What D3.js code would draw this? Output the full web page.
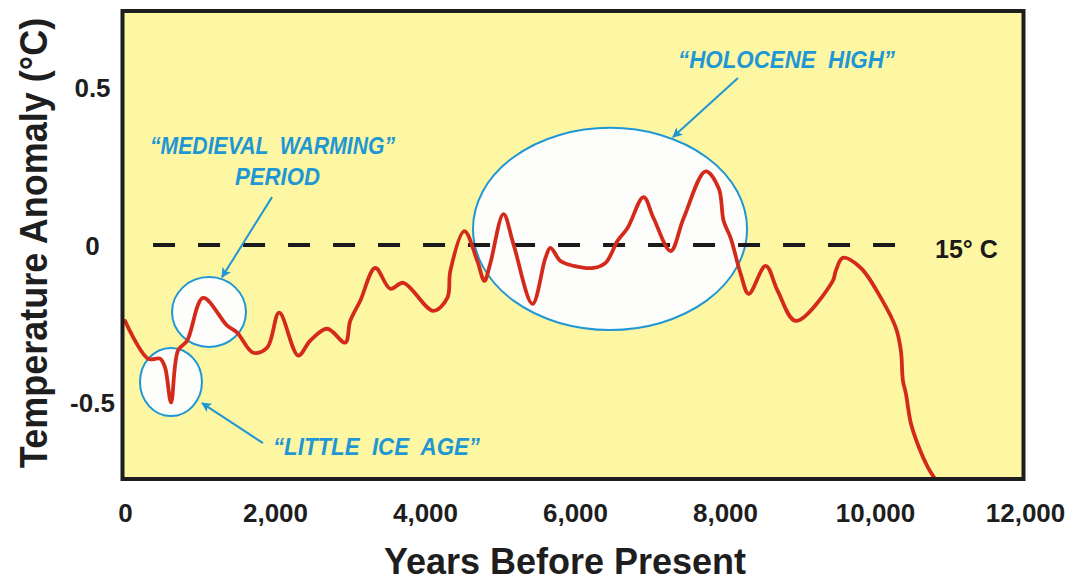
<!DOCTYPE html>
<html>
<head>
<meta charset="utf-8">
<script src="https://cdn.jsdelivr.net/npm/d3@7"></script>
<style>
  body { margin: 0; background: #fff; }
  #grafica { width: 1070px; height: 581px; }
</style>
</head>
<body>
<div id="grafica"></div>
<script>
// Datos (anios antes del presente, anomalia en °C)
anios = [0, 307, 467, 534, 614, 707, 828, 1041, 1362, 1495, 1709, 1896, 2056, 2309, 2469, 2696,
  2937, 3003, 3137, 3337, 3537, 3711, 4111, 4298, 4338, 4525, 4698, 4792, 4872, 5046, 5179,
  5433, 5606, 5673, 5806, 5980, 6247, 6407, 6567, 6701, 6914, 7048, 7275, 7448, 7742, 7916,
  7982, 8076, 8209, 8316, 8543, 8703, 8943, 9437, 9477, 9571, 9811, 10078, 10278, 10345,
  10372, 10412, 10478, 10585, 10705, 10785]
anomalia = [-0.241, -0.361, -0.361, -0.389, -0.500, -0.335, -0.304, -0.168, -0.256, -0.278,
  -0.342, -0.326, -0.215, -0.351, -0.304, -0.266, -0.310, -0.241, -0.177, -0.073, -0.139,
  -0.120, -0.209, -0.168, -0.082, 0.044, -0.051, -0.114, -0.057, 0.098, 0.003, -0.187, -0.041,
  -0.009, -0.051, -0.066, -0.073, -0.057, 0.013, 0.054, 0.152, 0.085, -0.019, 0.085, 0.234,
  0.180, 0.076, 0.022, -0.092, -0.155, -0.066, -0.146, -0.241, -0.114, -0.082, -0.041, -0.073,
  -0.168, -0.263, -0.335, -0.430, -0.472, -0.566, -0.642, -0.706, -0.737]

xTicks = [0, 2000, 4000, 6000, 8000, 10000, 12000]
yTicks = [-0.5, 0, 0.5]

// linea de referencia 15° C
referencia = { desde: 374, hasta: 10318, valor: 0, texto: '15° C' }

// anotaciones: elipses (centro y semiejes en unidades de datos)
zonas = ['ice', 'medieval', 'holoceno']
zonaAnio  = [613, 1120, 6467]
zonaValor = [-0.435, -0.213, 0.051]
zonaRx    = [413, 493, 1827]
zonaRy    = [0.108, 0.111, 0.321]

// textos de las anotaciones
notas      = ['\u201CMEDIEVAL  WARMING\u201D', 'PERIOD', '\u201CHOLOCENE  HIGH\u201D', '\u201CLITTLE  ICE  AGE\u201D']
notaAnio   = [1967, 2033, 8820, 3353]
notaValor  = [0.289, 0.190, 0.562, -0.667]
notaAncho  = [245, 85, 217, 207]

// flechas: [anio cola, valor cola, anio punta, valor punta]
flechas = [
  [1960, 0.152, 1293, -0.102],
  [1840, -0.629, 1027, -0.502],
  [8173, 0.530, 7307, 0.343]
]

ancho_total = 1070
alto_total  = 581
marco = { left: 122.5, right: 1023.5, top: 11, bottom: 479 }

azul = '#1f97d4'
rojo = '#d42a1c'
fuente = 'Liberation Sans, Arial, sans-serif'

svg = d3
        .select('#grafica')
        .append('svg')
        .attr('width', ancho_total)
        .attr('height', alto_total)

x = d3.scaleLinear()
      .domain([0, 12000])
      .range([125, 1025])

y = d3.scaleLinear()
      .domain([-0.743, 0.743])
      .range([marco.bottom, marco.top])

defs = svg.append('defs')

defs.append('clipPath')
  .attr('id', 'recorte')
  .append('rect')
  .attr('x', marco.left)
  .attr('y', marco.top)
  .attr('width', marco.right - marco.left)
  .attr('height', marco.bottom - marco.top)

defs.append('marker')
  .attr('id', 'punta')
  .attr('viewBox', '0 0 10 10')
  .attr('refX', 9)
  .attr('refY', 5)
  .attr('markerWidth', 13)
  .attr('markerHeight', 10)
  .attr('markerUnits', 'userSpaceOnUse')
  .attr('orient', 'auto')
  .append('path')
  .attr('d', 'M0,0 L10,5 L0,10 L2.5,5 Z')
  .attr('fill', azul)

// fondo amarillo
svg.append('rect')
  .attr('x', marco.left)
  .attr('y', marco.top)
  .attr('width', marco.right - marco.left)
  .attr('height', marco.bottom - marco.top)
  .attr('fill', '#fdf6a3')

// elipses blancas
svg.append('g')
  .selectAll('ellipse')
  .data(zonas)
  .join('ellipse')
    .attr('cx', (d, i) => x(zonaAnio[i]))
    .attr('cy', (d, i) => y(zonaValor[i]))
    .attr('rx', (d, i) => x(zonaAnio[i] + zonaRx[i]) - x(zonaAnio[i]))
    .attr('ry', (d, i) => y(zonaValor[i] - zonaRy[i]) - y(zonaValor[i]))
    .attr('fill', '#fdfefc')
    .attr('stroke', azul)
    .attr('stroke-width', 2)

// linea discontinua de 15° C
svg.append('line')
  .attr('x1', x(referencia.desde))
  .attr('x2', x(referencia.hasta))
  .attr('y1', y(referencia.valor))
  .attr('y2', y(referencia.valor))
  .attr('stroke', '#1a1a1a')
  .attr('stroke-width', 4)
  .attr('stroke-dasharray', '22,23')

svg.append('text')
  .attr('x', x(10800))
  .attr('y', y(referencia.valor) + 13)
  .attr('font-family', fuente)
  .attr('font-weight', 'bold')
  .attr('font-size', '25px')
  .attr('fill', '#1a1a1a')
  .text(referencia.texto)

// curva de temperatura
puntos = anios.map((a, i) => [a, anomalia[i]])

linea = d3.line()
          .x((d) => x(d[0]))
          .y((d) => y(d[1]))
          .curve(d3.curveCatmullRom.alpha(0.5))

svg.append('path')
  .datum(puntos)
  .attr('clip-path', 'url(#recorte)')
  .attr('d', linea)
  .attr('fill', 'none')
  .attr('stroke', rojo)
  .attr('stroke-width', 3.8)
  .attr('stroke-linejoin', 'round')
  .attr('stroke-linecap', 'round')

// flechas azules
svg.append('g')
  .selectAll('line')
  .data(flechas)
  .join('line')
    .attr('x1', (d) => x(d[0]))
    .attr('y1', (d) => y(d[1]))
    .attr('x2', (d) => x(d[2]))
    .attr('y2', (d) => y(d[3]))
    .attr('stroke', azul)
    .attr('stroke-width', 2)
    .attr('marker-end', 'url(#punta)')

// textos de anotacion
svg.append('g')
  .selectAll('text')
  .data(notas)
  .join('text')
    .attr('x', (d, i) => x(notaAnio[i]))
    .attr('y', (d, i) => y(notaValor[i]))
    .attr('text-anchor', 'middle')
    .attr('font-family', fuente)
    .attr('font-weight', 'bold')
    .attr('font-style', 'italic')
    .attr('font-size', '23px')
    .attr('fill', azul)
    .attr('textLength', (d, i) => notaAncho[i])
    .attr('lengthAdjust', 'spacingAndGlyphs')
    .style('white-space', 'pre')
    .text((d) => d)

// marco negro
svg.append('rect')
  .attr('x', marco.left)
  .attr('y', marco.top)
  .attr('width', marco.right - marco.left)
  .attr('height', marco.bottom - marco.top)
  .attr('fill', 'none')
  .attr('stroke', '#1e1e1e')
  .attr('stroke-width', 4)

// ejes
xGroup = svg.append('g')
            .attr('transform', `translate(0, ${marco.bottom})`)
            .call(d3.axisBottom(x).tickValues(xTicks).tickSize(0).tickFormat(d3.format(',')))
xGroup.select('.domain').remove()
xGroup.selectAll('text')
  .attr('y', 43)
  .attr('dy', 0)
  .attr('font-family', fuente)
  .attr('font-weight', 'bold')
  .attr('font-size', '26px')
  .attr('fill', '#1e1e1e')

yGroup = svg.append('g')
            .attr('transform', `translate(${marco.left}, 0)`)
            .call(d3.axisLeft(y).tickValues(yTicks).tickSize(0).tickFormat((d) => d))
yGroup.select('.domain').remove()
yGroup.selectAll('text')
  .attr('x', -30)
  .attr('dy', '0.36em')
  .attr('text-anchor', 'middle')
  .attr('font-family', fuente)
  .attr('font-weight', 'bold')
  .attr('font-size', '26px')
  .attr('fill', '#1e1e1e')

// titulos de ejes
svg.append('text')
  .attr('x', 565)
  .attr('y', 574)
  .attr('text-anchor', 'middle')
  .attr('font-family', fuente)
  .attr('font-weight', 'bold')
  .attr('font-size', '36px')
  .attr('fill', '#1e1e1e')
  .text('Years Before Present')

// titulo vertical: letras algo mas altas que anchas, como en la original
svg.append('text')
  .attr('transform', 'translate(47, 243) rotate(-90) scale(1, 1.1)')
  .attr('text-anchor', 'middle')
  .attr('font-family', fuente)
  .attr('font-weight', 'bold')
  .attr('font-size', '36px')
  .attr('fill', '#1e1e1e')
  .text('Temperature Anomaly (°C)')
</script>
</body>
</html>
